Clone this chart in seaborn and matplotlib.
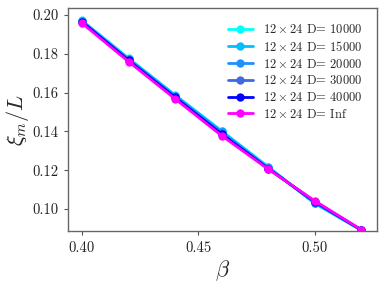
import matplotlib
matplotlib.use("Agg")
import matplotlib.pyplot as plt
import seaborn as sns
import pandas as pd

beta = [0.40, 0.42, 0.44, 0.46, 0.48, 0.50, 0.52]
labels = [r"$12\times24$ D= 10000", r"$12\times24$ D= 15000", r"$12\times24$ D= 20000",
          r"$12\times24$ D= 30000", r"$12\times24$ D= 40000", r"$12\times24$ D= Inf"]
xi_10000 = [0.1972, 0.1778, 0.1588, 0.1403, 0.1218, 0.1028, 0.0890]
xi_15000 = [0.1970, 0.1775, 0.1585, 0.1400, 0.1215, 0.1030, 0.0891]
xi_20000 = [0.1968, 0.1772, 0.1582, 0.1395, 0.1212, 0.1033, 0.0891]
xi_30000 = [0.1966, 0.1769, 0.1578, 0.1390, 0.1210, 0.1036, 0.0892]
xi_40000 = [0.1964, 0.1766, 0.1575, 0.1386, 0.1208, 0.1038, 0.0892]
xi_inf = [0.1958, 0.1760, 0.1568, 0.1378, 0.1205, 0.1042, 0.0893]
colors = ["#00ffff", "#00bfff", "#1e90ff", "#4169e1", "#0000ff", "#ff00ff"]

series = [xi_10000, xi_15000, xi_20000, xi_30000, xi_40000, xi_inf]
rows = []
for lab, vals in zip(labels, series):
    for b, v in zip(beta, vals):
        rows.append({"beta": b, "xi": v, "series": lab})
df = pd.DataFrame(rows)

sns.set_theme(style="ticks")
plt.rcParams["font.family"] = ["cmr10"]
plt.rcParams["mathtext.fontset"] = "cm"
plt.rcParams["axes.formatter.use_mathtext"] = True

fig = plt.figure(figsize=(3.82, 2.89), dpi=100)
ax = fig.add_axes([0.178, 0.200, 0.809, 0.772])

sns.lineplot(data=df, x="beta", y="xi", hue="series", hue_order=labels,
             palette=dict(zip(labels, colors)), marker="o", markersize=6,
             markeredgewidth=0, linewidth=2, ax=ax)

ax.set_xlim(0.394, 0.5268)
ax.set_ylim(0.0885, 0.2036)
ax.set_xticks([0.40, 0.45, 0.50])
ax.set_xticklabels(["0.40", "0.45", "0.50"])
ax.set_yticks([0.10, 0.12, 0.14, 0.16, 0.18, 0.20])
ax.set_yticklabels(["0.10", "0.12", "0.14", "0.16", "0.18", "0.20"])
ax.tick_params(labelsize=10.5, length=3, width=0.8, color="#555555", pad=4,
               labelcolor="#222222")
for s in ax.spines.values():
    s.set_color("#666666")
    s.set_linewidth(1.0)
ax.set_xlabel(r"$\beta$", fontsize=16, labelpad=3)
ax.set_ylabel(r"$\xi_m/L$", fontsize=16, labelpad=1)

leg = ax.legend(loc="upper right", frameon=False, fontsize=9,
                handlelength=2.0, labelspacing=0.3, borderaxespad=0.8,
                handletextpad=0.8, borderpad=0.4)

fig.savefig("out.png", dpi=100)
